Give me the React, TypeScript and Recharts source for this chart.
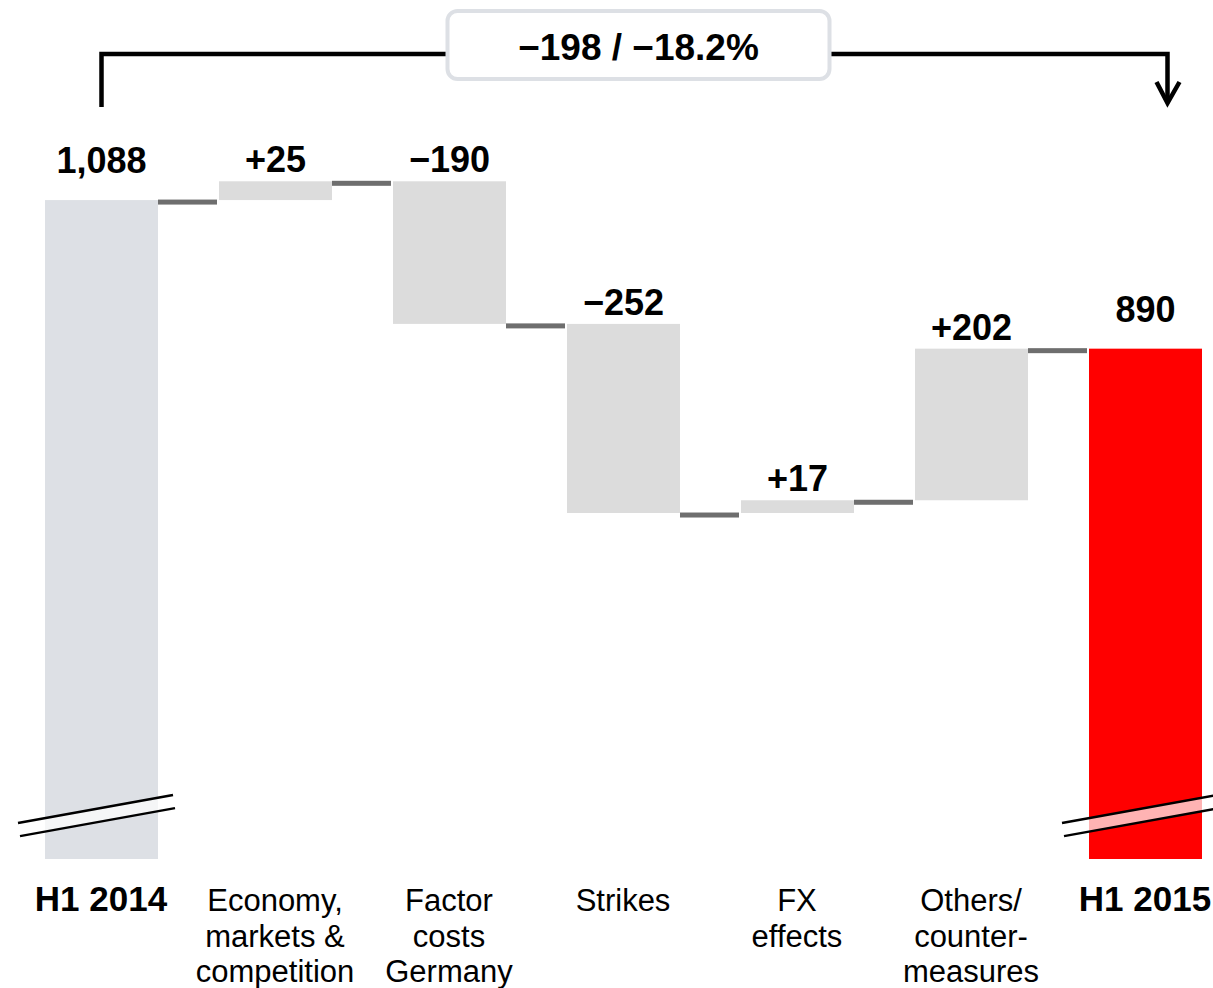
import { BarChart, Bar, XAxis, YAxis } from "recharts";

// --- data ---------------------------------------------------------------
const categories = [
  "H1 2014",
  "Economy, markets & competition",
  "Factor costs Germany",
  "Strikes",
  "FX effects",
  "Others/ counter-measures",
  "H1 2015",
];
const tickLines = [
  ["H1 2014"],
  ["Economy,", "markets &", "competition"],
  ["Factor", "costs", "Germany"],
  ["Strikes"],
  ["FX", "effects"],
  ["Others/", "counter-", "measures"],
  ["H1 2015"],
];
const startValue = 1088;
const deltas = [25, -190, -252, 17, 202];
const endValue = 890;
const changeLabel = "−198 / −18.2%";

// the value axis is broken: total bars start at axisFloor, not at zero
const axisFloor = 210;
const axisCeil = 1220;

// --- layout -------------------------------------------------------------
const WIDTH = 1240;
const HEIGHT = 988;
const MARGIN = { top: 101, right: 8, bottom: 29, left: 14 };
const BAND = (WIDTH - MARGIN.left - MARGIN.right) / categories.length;
const BAR_SIZE = 113;
const FONT = "'Liberation Sans', Arial, sans-serif";

type Kind = "start" | "delta" | "end";
interface Row {
  name: string;
  kind: Kind;
  value: number;
  range: [number, number];
}

let level = startValue;
const data: Row[] = categories.map((name, i) => {
  if (i === 0) return { name, kind: "start", value: startValue, range: [axisFloor, startValue] };
  if (i === categories.length - 1) return { name, kind: "end", value: endValue, range: [axisFloor, endValue] };
  const d = deltas[i - 1];
  const from = level;
  level += d;
  return { name, kind: "delta", value: d, range: [Math.min(from, level), Math.max(from, level)] };
});

function formatValue(row: Row) {
  if (row.kind !== "delta") return row.value.toLocaleString("en-US");
  return (row.value > 0 ? "+" : "−") + Math.abs(row.value);
}

// two slanted lines marking the axis break on a total bar
function BreakMark({ x, width, bottom }: { x: number; width: number; bottom: number }) {
  const x0 = x - 27;
  const x1 = x + 128;
  const slope = -28 / (x1 - x0);
  const at = (px: number, base: number) => bottom + base + slope * (px - x0);
  const band = [
    [x, at(x, -36)],
    [x + width, at(x + width, -36)],
    [x + width, at(x + width, -22.5)],
    [x, at(x, -22.5)],
  ]
    .map((p) => p.join(","))
    .join(" ");
  return (
    <g>
      <polygon points={band} fill="#fff" fillOpacity={0.7} />
      <line x1={x0} y1={at(x0, -36)} x2={x1} y2={at(x1, -36)} stroke="#000" strokeWidth={2.5} />
      <line x1={x0 + 2} y1={at(x0 + 2, -22.5)} x2={x1 + 2} y2={at(x1 + 2, -22.5)} stroke="#000" strokeWidth={2.5} />
    </g>
  );
}

// bracket with arrow from first total to last total
function ChangeBracket({ rightCenter }: { rightCenter: number }) {
  const leftX = rightCenter - (categories.length - 1) * BAND;
  const rightX = rightCenter + 22;
  const mid = (leftX + rightX) / 2 + 4;
  return (
    <g>
      <path
        d={`M${leftX} 107 V54 H${rightX} V101`}
        fill="none"
        stroke="#000"
        strokeWidth={4.5}
      />
      <path
        d={`M${rightX - 11} 82 L${rightX} 103 L${rightX + 12} 82`}
        fill="none"
        stroke="#000"
        strokeWidth={4.5}
      />
      <rect x={mid - 191} y={11} width={382} height={68} rx={10} fill="#fff" stroke="#dde0e5" strokeWidth={4} />
      <text x={mid} y={60} textAnchor="middle" fontFamily={FONT} fontWeight={700} fontSize={37} fill="#000">
        {changeLabel}
      </text>
    </g>
  );
}

function WaterfallBar(props: any) {
  const { x, y, width, height, payload } = props;
  const row = payload as Row;
  const top = Math.min(y, y + height);
  const h = Math.abs(height);
  const bottom = top + h;
  const fill = row.kind === "start" ? "#dde0e5" : row.kind === "end" ? "#ff0000" : "#dcdcdc";
  const endY = row.kind === "delta" && row.value < 0 ? bottom : top;
  const labelGap = row.kind === "delta" ? 9 : 27;
  return (
    <g>
      <rect x={x} y={top} width={width} height={h} fill={fill} />
      {row.kind !== "end" && (
        <rect x={x + width} y={endY - 0.5} width={BAND - BAR_SIZE - 2} height={5} fill="#6e6e6e" />
      )}
      {row.kind !== "delta" && <BreakMark x={x} width={width} bottom={bottom} />}
      <text
        x={x + width / 2}
        y={top - labelGap}
        textAnchor="middle"
        fontFamily={FONT}
        fontWeight={700}
        fontSize={36}
        fill="#000"
      >
        {formatValue(row)}
      </text>
      {row.kind === "end" && <ChangeBracket rightCenter={x + width / 2} />}
    </g>
  );
}

function CategoryTick({ x, y, payload }: any) {
  const i = categories.indexOf(payload.value);
  const lines = tickLines[i] ?? [payload.value];
  const bold = i === 0 || i === categories.length - 1;
  return (
    <text
      x={x}
      y={y}
      textAnchor="middle"
      fontFamily={FONT}
      fontSize={bold ? 35 : 31}
      fontWeight={bold ? 700 : 400}
      fill="#000"
    >
      {lines.map((line, k) => (
        <tspan key={k} x={x} dy={k === 0 ? 52 : 35.5}>
          {line}
        </tspan>
      ))}
    </text>
  );
}

export default function App() {
  return (
    <div style={{ position: "absolute", left: 0, top: 0, width: 1213, height: HEIGHT, overflow: "hidden", background: "#fff" }}>
      <BarChart width={WIDTH} height={HEIGHT} data={data} margin={MARGIN} style={{ overflow: "visible" }}>
        <XAxis
          dataKey="name"
          interval={0}
          height={100}
          axisLine={false}
          tickLine={false}
          tickSize={0}
          tickMargin={0}
          tick={<CategoryTick />}
        />
        <YAxis hide domain={[axisFloor, axisCeil]} />
        <Bar dataKey="range" barSize={BAR_SIZE} isAnimationActive={false} shape={WaterfallBar} />
      </BarChart>
    </div>
  );
}
